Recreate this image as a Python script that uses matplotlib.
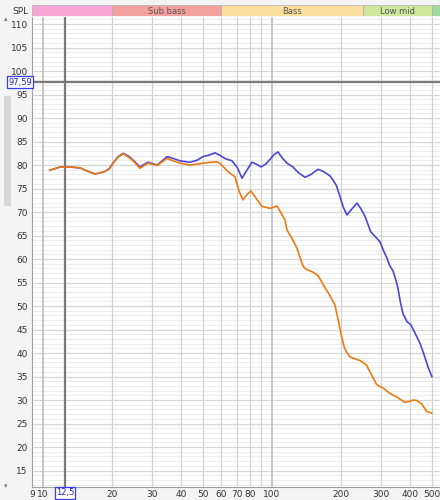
import numpy as np
import matplotlib
matplotlib.use("Agg")
import matplotlib.pyplot as plt
from matplotlib.patches import Rectangle

# ---------------------------------------------------------------
# data (Hz, dB SPL)
# ---------------------------------------------------------------
blue_f = [10.7, 11.9, 13.0, 14.5, 16.0, 16.9, 18.6, 19.5, 20.2, 21.3, 22.4,
          23.8, 25.2, 26.5, 28.7, 31.5, 33.0, 34.8, 37.0, 39.7, 43.8, 47.0,
          50.0, 53.0, 56.4, 59.5, 62.3, 66.9, 70.5, 74.0, 77.5, 81.8, 85.5,
          89.5, 94.0, 98.0, 102.0, 106.2, 111.0, 116.3, 123.5, 131.0, 139.4,
          148.0, 158.8, 168.0, 179.2, 184.7, 191.0, 198.2, 205.0, 212.6,
          222.0, 235.0, 244.0, 254.8, 270.0, 282.0, 296.2, 307.0, 317.8,
          327.0, 337.7, 348.0, 355.1, 364.0, 373.4, 388.7, 404.6, 422.0,
          443.0, 462.0, 480.0, 499.5]
blue_db = [78.9, 79.6, 79.6, 79.4, 78.5, 78.1, 78.6, 79.3, 80.4, 81.8, 82.5,
           81.8, 80.7, 79.6, 80.6, 80.0, 80.8, 81.8, 81.4, 80.9, 80.6, 81.0,
           81.8, 82.1, 82.6, 82.0, 81.4, 80.9, 79.5, 77.2, 78.8, 80.6, 80.2,
           79.6, 80.2, 81.2, 82.2, 82.8, 81.5, 80.4, 79.6, 78.3, 77.4,
           78.0, 79.1, 78.6, 77.7, 76.8, 75.7, 73.3, 71.0, 69.4,
           70.5, 71.9, 70.8, 69.1, 65.8, 64.8, 63.7, 61.8, 60.2,
           58.6, 57.5, 55.5, 53.8, 50.8, 48.4, 46.7, 46.0, 44.2,
           42.1, 39.6, 37.1, 35.0]

orange_f = [10.7, 11.9, 13.0, 14.5, 16.0, 16.9, 18.6, 19.5, 20.2, 21.3, 22.4,
            23.8, 25.2, 26.5, 28.7, 31.5, 33.0, 34.8, 37.0, 39.7, 43.8, 47.0,
            50.0, 54.0, 57.5, 59.9, 62.0, 64.2, 68.9, 72.0, 74.7, 77.5, 81.0,
            85.0, 90.4, 98.0, 101.5, 105.1, 109.0, 114.0, 116.3, 122.3, 128.6,
            136.6, 141.0, 146.5, 151.0, 158.8, 162.0, 170.0, 179.2, 188.4,
            194.8, 201.5, 207.0, 212.0, 219.0, 230.0, 242.3, 259.1, 272.5,
            286.6, 295.0, 305.2, 316.0, 327.6, 350.4, 365.0, 380.9, 397.0,
            414.0, 429.8, 450.6, 473.7, 498.2]
orange_db = [78.9, 79.6, 79.6, 79.4, 78.5, 78.1, 78.6, 79.2, 80.3, 81.7, 82.4,
             81.6, 80.5, 79.3, 80.4, 79.9, 80.6, 81.4, 80.9, 80.4, 80.0, 80.2,
             80.4, 80.6, 80.7, 80.2, 79.4, 78.6, 77.5, 74.3, 72.6, 73.6, 74.5,
             73.0, 71.2, 70.8, 71.0, 71.3, 70.0, 68.3, 66.2, 64.4, 62.3,
             58.5, 57.8, 57.5, 57.2, 56.5, 55.8, 54.0, 52.2, 50.2,
             47.0, 43.5, 41.2, 40.2, 39.2, 38.8, 38.4, 37.4, 35.3,
             33.3, 32.9, 32.6, 32.0, 31.4, 30.7, 30.1, 29.5, 29.7,
             30.0, 29.9, 29.2, 27.6, 27.2]

x_ticks = [9, 10, 20, 30, 40, 50, 60, 70, 80, 100, 200, 300, 400, 500]
x_grid = [10, 20, 30, 40, 50, 60, 70, 80, 90, 100, 200, 300, 400, 500]
y_ticks = list(range(15, 115, 5))

bands = [(8.95, 20, "", "#f8a6d6"),
         (20, 60, "Sub bass", "#f4a09e"),
         (60, 250, "Bass", "#fbdf9c"),
         (250, 500, "Low mid", "#cde79c"),
         (500, 545, "", "#9edc9e")]

cursor_f = 12.5
cursor_db = 97.59

# ---------------------------------------------------------------
W, H = 440, 500
fig = plt.figure(figsize=(W / 100, H / 100), dpi=100, facecolor="#f4f4f4")

ax = fig.add_axes([32 / W, 1 - 487 / H, (W - 32) / W, (487 - 17) / H])
ax.set_facecolor("white")
ax.set_xscale("log")
ax.set_xlim(8.95, 542)
ax.set_ylim(11.5, 111.5)

# grid
for v in np.arange(12, 112, 1):
    if v % 5:
        ax.axhline(v, color="#ededed", lw=0.8, zorder=0)
for v in y_ticks:
    ax.axhline(v, color="#d6d6d6", lw=0.9, zorder=0)
for f in x_grid:
    c = "#bdbdbd" if f in (10, 100) else "#d2d2d2"
    ax.axvline(f, color=c, lw=1.2 if f in (10, 100) else 0.9, zorder=0)

# cursor
ax.axvline(cursor_f, color="#7a7a7a", lw=1.6, zorder=1)
ax.axhline(cursor_db, color="#7a7a7a", lw=1.6, zorder=1)

ax.plot(blue_f, blue_db, color="#4c46d6", lw=1.2, zorder=3)
ax.plot(orange_f, orange_db, color="#ec7a12", lw=1.2, zorder=4)

ax.set_xticks(x_ticks)
ax.set_xticklabels([str(t) for t in x_ticks])
ax.xaxis.set_minor_locator(matplotlib.ticker.NullLocator())
ax.set_yticks(y_ticks)
ax.tick_params(axis="both", length=0, labelsize=6.5, colors="#333333")
ax.tick_params(axis="x", pad=2)
ax.tick_params(axis="y", pad=3)
for s in ["top", "right"]:
    ax.spines[s].set_visible(False)
ax.spines["left"].set_color("#a0a0a0")
ax.spines["bottom"].set_color("#a0a0a0")

# frequency band header
hax = fig.add_axes([32 / W, 1 - 16 / H, (W - 32) / W, 11 / H])
hax.set_xscale("log")
hax.set_xlim(8.95, 542)
hax.set_ylim(0, 1)
hax.axis("off")
for lo, hi, name, col in bands:
    hax.add_patch(Rectangle((lo, 0), hi - lo, 1, facecolor=col,
                            edgecolor="#b0b0b0", lw=0.5))
    if name:
        hax.text(np.sqrt(lo * hi), 0.45, name, ha="center", va="center",
                 fontsize=6, color="#555555")

fig.text(20 / W, 1 - 11 / H, "SPL", ha="center", va="center",
         fontsize=6.5, color="#333333")

# cursor value boxes
box = dict(boxstyle="square,pad=0.15", facecolor="white",
           edgecolor="#3a3aff", lw=0.9)
fig.text(20 / W, 1 - 82 / H, "97,59", ha="center", va="center",
         fontsize=6, color="#2222cc", bbox=box)
fig.text(65 / W, 1 - 493 / H, "12,5", ha="center", va="center",
         fontsize=6, color="#2222cc", bbox=box, zorder=10)

# scrollbar on the left
fig.patches.append(Rectangle((4 / W, 1 - 206 / H), 7 / W, 110 / H,
                             transform=fig.transFigure,
                             facecolor="#d6d6d6", edgecolor="none"))
fig.text(6 / W, 1 - 19 / H, "\u25b4", ha="center", va="center",
         fontsize=5, color="#777777")
fig.text(6 / W, 1 - 486 / H, "\u25be", ha="center", va="center",
         fontsize=5, color="#777777")

fig.savefig("out.png", dpi=100, facecolor=fig.get_facecolor())
